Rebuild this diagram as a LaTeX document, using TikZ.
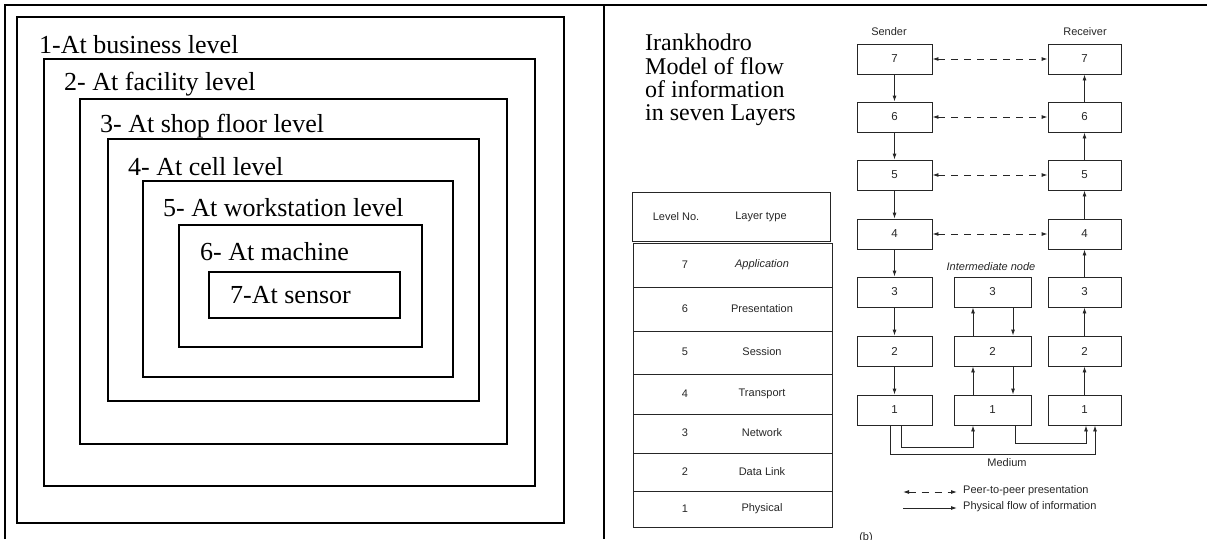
\documentclass[tikz,border=0pt]{standalone}
\usepackage{fontspec}
\setmainfont{Liberation Serif}
\newfontfamily\scanfont{Liberation Sans}
\usetikzlibrary{arrows.meta}
\begin{document}
\begin{tikzpicture}[x=1pt,y=-1pt,
  frame/.style={line width=2.5pt},
  levelbox/.style={line width=2pt},
  leveltext/.style={anchor=base west, inner sep=0pt, font=\fontsize{26}{30}\selectfont},
  scan/.style={black!85, line width=0.9pt},
  layer/.style={draw=black!85, line width=0.9pt, minimum height=30pt, inner sep=0pt, text=black!85, font=\scanfont\fontsize{11.5}{13}\selectfont},
  small/.style={inner sep=0pt, text=black!85, font=\scanfont\fontsize{11}{13}\selectfont},
  flow/.style={scan, -{Latex[length=6pt,width=4pt]}},
  peer/.style={scan, dash pattern=on 7pt off 6pt, {Latex[length=6pt,width=4pt]}-{Latex[length=6pt,width=4pt]}},
]
\useasboundingbox (0,0) rectangle (1207,539);
\clip (0,0) rectangle (1207,539);
% frame
\draw[frame] (5,539) -- (5,5) -- (1207,5);
\draw[frame] (604,5) -- (604,539);
% left panel: nested levels
\draw[levelbox] (17,17) rectangle (564,523);
\draw[levelbox] (44,59) rectangle (535,486);
\draw[levelbox] (80,99) rectangle (507,444);
\draw[levelbox] (108,139) rectangle (479,401);
\draw[levelbox] (143,181) rectangle (453,377);
\draw[levelbox] (179,225) rectangle (422,347);
\draw[levelbox] (209,272) rectangle (400,318);
\node[leveltext] (t1) at (39,53) {1-At business level};
\node[leveltext] (t2) at (64,90) {2- At facility level};
\node[leveltext] (t3) at (100,132) {3- At shop floor level};
\node[leveltext] (t4) at (128,175) {4- At cell level};
\node[leveltext] (t5) at (163,216) {5- At workstation level};
\node[leveltext] (t6) at (200,260) {6- At machine};
\node[leveltext] (t7) at (230,303) {7-At sensor};
% right panel: title
\node[anchor=north west, inner sep=0pt, align=left, font=\fontsize{24}{23.3}\selectfont] (title) at (645,34)
  {Irankhodro\\Model of flow\\of information\\in seven Layers};
% table
\draw[scan] (632,192) rectangle (830,241);
\node[small] (hn) at (676,217) {Level No.};
\node[small] (ht) at (761,217) {Layer type};
\draw[scan] (633,243) rectangle (832,527);
\foreach \yy in {287,331,374,414,453,491} \draw[scan] (633,\yy) -- (832,\yy);
\node[small] (n7) at (685,265) {7};  \node[small] (l7) at (762,265) {\itshape Application};
\node[small] (n6) at (685,309) {6};  \node[small] (l6) at (762,309) {Presentation};
\node[small] (n5) at (685,352) {5};  \node[small] (l5) at (762,352) {Session};
\node[small] (n4) at (685,394) {4};  \node[small] (l4) at (762,394) {Transport};
\node[small] (n3) at (685,433) {3};  \node[small] (l3) at (762,433) {Network};
\node[small] (n2) at (685,472) {2};  \node[small] (l2) at (762,472) {Data Link};
\node[small] (n1) at (685,509) {1};  \node[small] (l1) at (762,509) {Physical};
% columns
\node[small] (snd) at (889,32) {Sender};
\node[small] (rcv) at (1085,32) {Receiver};
\foreach \n/\yy in {7/59,6/117,5/175,4/234,3/292,2/351,1/410} {
  \node[layer, minimum width=75pt] (s\n) at (894.5,\yy) {\n};
  \node[layer, minimum width=73pt] (r\n) at (1084.5,\yy) {\n};
}
\foreach \n/\yy in {3/292,2/351,1/410}
  \node[layer, minimum width=77pt] (i\n) at (992.5,\yy) {\n};
\node[small, font=\scanfont\itshape\fontsize{11}{13}\selectfont] (inl) at (991,267) {Intermediate node};
% sender down arrows
\draw[flow] (s7) -- (s6);
\draw[flow] (s6) -- (s5);
\draw[flow] (s5) -- (s4);
\draw[flow] (s4) -- (s3);
\draw[flow] (s3) -- (s2);
\draw[flow] (s2) -- (s1);
% receiver up arrows
\draw[flow] (r1) -- (r2);
\draw[flow] (r2) -- (r3);
\draw[flow] (r3) -- (r4);
\draw[flow] (r4) -- (r5);
\draw[flow] (r5) -- (r6);
\draw[flow] (r6) -- (r7);
% intermediate arrows
\draw[flow] ([xshift=-19.5pt]i1.north) -- ([xshift=-19.5pt]i2.south);
\draw[flow] ([xshift=-19.5pt]i2.north) -- ([xshift=-19.5pt]i3.south);
\draw[flow] ([xshift=20.5pt]i3.south) -- ([xshift=20.5pt]i2.north);
\draw[flow] ([xshift=20.5pt]i2.south) -- ([xshift=20.5pt]i1.north);
% peer-to-peer
\draw[peer] (s7) -- (r7);
\draw[peer] (s6) -- (r6);
\draw[peer] (s5) -- (r5);
\draw[peer] (s4) -- (r4);
% medium
\draw[flow] ([xshift=6.5pt]s1.south) -- ++(0,22) -| ([xshift=-19.5pt]i1.south);
\draw[flow] ([xshift=-4.5pt]s1.south) -- ++(0,29) -| ([xshift=10.5pt]r1.south);
\draw[flow] ([xshift=22.5pt]i1.south) -- ++(0,18) -| ([xshift=1.5pt]r1.south);
\node[small] (med) at (1007,463) {Medium};
% legend
\coordinate (la) at (903,492);
\coordinate (lb) at (903,508);
\node[small, anchor=west] (lt1) at (963,491) {Peer-to-peer presentation};
\node[small, anchor=west] (lt2) at (963,507) {Physical flow of information};
\draw[peer] (la) -- ([xshift=-6pt]lt1.west |- la);
\draw[flow] (lb) -- ([xshift=-6pt]lt2.west |- lb);
\node[small] (b) at (866,538) {(b)};
\end{tikzpicture}
\end{document}
